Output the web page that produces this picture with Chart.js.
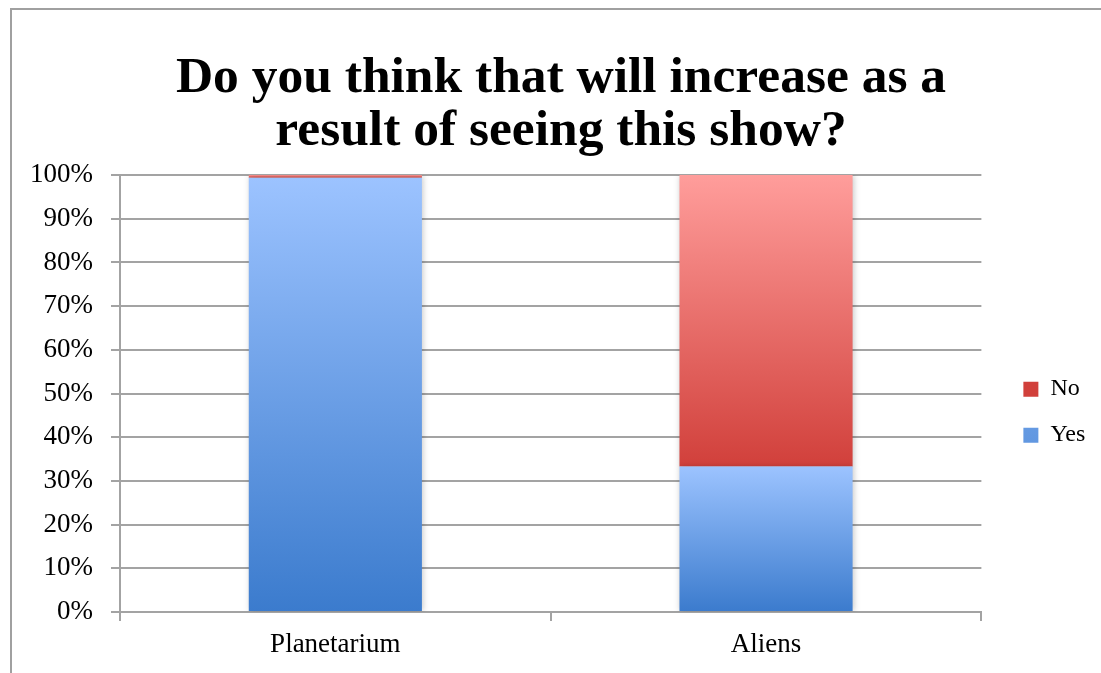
<!DOCTYPE html>
<html>
<head>
<meta charset="utf-8">
<script src="https://cdn.jsdelivr.net/npm/chart.js@4/dist/chart.umd.min.js"></script>
<style>
    html, body { margin: 0; padding: 0; background: #fff; }
    #grafico-wrap { position: relative; width: 1101px; height: 673px; }
</style>
</head>
<body>
<div id="grafico-wrap"><canvas id="grafico-barras-show"></canvas></div>
<script>
var show_labels = ['Planetarium', 'Aliens'];
var answers_yes = [99.4, 33.3];
var answers_no = [0.6, 66.7];
var percent_ticks = [0, 10, 20, 30, 40, 50, 60, 70, 80, 90, 100];
var chart_title = ['Do you think that will increase as a', 'result of seeing this show?'];

var serif = "'Liberation Serif', 'Times New Roman', serif";
var line_gray = '#a3a3a3';

// vertical gradient for each stacked segment, dark at its base, light at its top
function segmentFill(dark, mid, light) {
    return function(ctx) {
        var chart = ctx.chart;
        var y = chart.scales.y;
        if (ctx.dataIndex === undefined || !y) return mid;
        var base = 0;
        for (var i = 0; i < ctx.datasetIndex; i++) {
            base += chart.data.datasets[i].data[ctx.dataIndex];
        }
        var top = base + ctx.raw;
        var g = chart.ctx.createLinearGradient(0, y.getPixelForValue(base), 0, y.getPixelForValue(top));
        g.addColorStop(0, dark);
        g.addColorStop(1, light);
        return g;
    };
}

// grey frame on the top and left, like the exported chart box
var frame = {
    id: 'frame',
    beforeDraw: function(chart) {
        var c = chart.ctx;
        c.save();
        c.fillStyle = '#fff';
        c.fillRect(0, 0, chart.width, chart.height);
        c.strokeStyle = '#a0a0a0';
        c.lineWidth = 2;
        c.beginPath();
        c.moveTo(11, chart.height);
        c.lineTo(11, 9);
        c.lineTo(chart.width, 9);
        c.stroke();
        c.restore();
    }
};

// soft shadow around the bars
var barShadow = {
    id: 'barShadow',
    beforeDatasetsDraw: function(chart) {
        var c = chart.ctx;
        c.save();
        c.shadowColor = 'rgba(0,0,0,0.22)';
        c.shadowBlur = 6;
        c.shadowOffsetX = 1;
        c.shadowOffsetY = 0;
    },
    afterDatasetsDraw: function(chart) {
        chart.ctx.restore();
    }
};

var show_ctx = document.getElementById('grafico-barras-show').getContext('2d');
var show_config = {
    type: 'bar',
    data: {
        labels: show_labels,
        datasets: [{
            label: 'Yes',
            data: answers_yes,
            backgroundColor: segmentFill('#3b7bcd', '#6fa0ea', '#9cc3ff')
        }, {
            label: 'No',
            data: answers_no,
            backgroundColor: segmentFill('#d1403b', '#e66a67', '#ff9d9b')
        }]
    },
    options: {
        responsive: true,
        maintainAspectRatio: false,
        animation: false,
        layout: {
            padding: { top: 10, left: 26.7, right: 5.7, bottom: 3.6 }
        },
        datasets: {
            bar: { categoryPercentage: 1, barPercentage: 0.402 }
        },
        scales: {
            x: {
                stacked: true,
                grid: { drawOnChartArea: false, offset: true, color: line_gray, lineWidth: 2, tickLength: 9 },
                border: { color: line_gray, width: 2 },
                ticks: { color: '#000', padding: 8, font: { family: serif, size: 27 } }
            },
            y: {
                stacked: true,
                min: 0,
                max: 100,
                afterBuildTicks: function(scale) {
                    scale.ticks = percent_ticks.map(function(v) { return { value: v }; });
                },
                afterFit: function(scale) { scale.width = 93.3; },
                grid: { color: line_gray, lineWidth: 2, tickLength: 9 },
                border: { color: line_gray, width: 2 },
                ticks: {
                    color: '#000',
                    padding: 18,
                    font: { family: serif, size: 27 },
                    callback: function(v) { return v + '%'; }
                }
            },
            y_gap: {
                position: 'right',
                min: 0,
                max: 1,
                grid: { display: false },
                border: { display: false },
                ticks: { display: false },
                afterFit: function(scale) { scale.width = 20; }
            }
        },
        plugins: {
            title: {
                display: true,
                text: chart_title,
                color: '#000',
                font: { family: serif, size: 51.5, weight: 'bold', lineHeight: 1.03 },
                padding: { top: 42, bottom: 17 }
            },
            legend: {
                position: 'right',
                fullSize: false,
                reverse: true,
                title: { display: true, text: '', font: { size: 31, lineHeight: 1.2 }, padding: 0 },
                labels: {
                    boxWidth: 15,
                    boxHeight: 15,
                    padding: 22,
                    color: '#000',
                    font: { family: serif, size: 24 }
                }
            },
            tooltip: { enabled: false }
        }
    },
    plugins: [frame, barShadow]
};
var grafico_show = new Chart(show_ctx, show_config);
</script>
</body>
</html>
